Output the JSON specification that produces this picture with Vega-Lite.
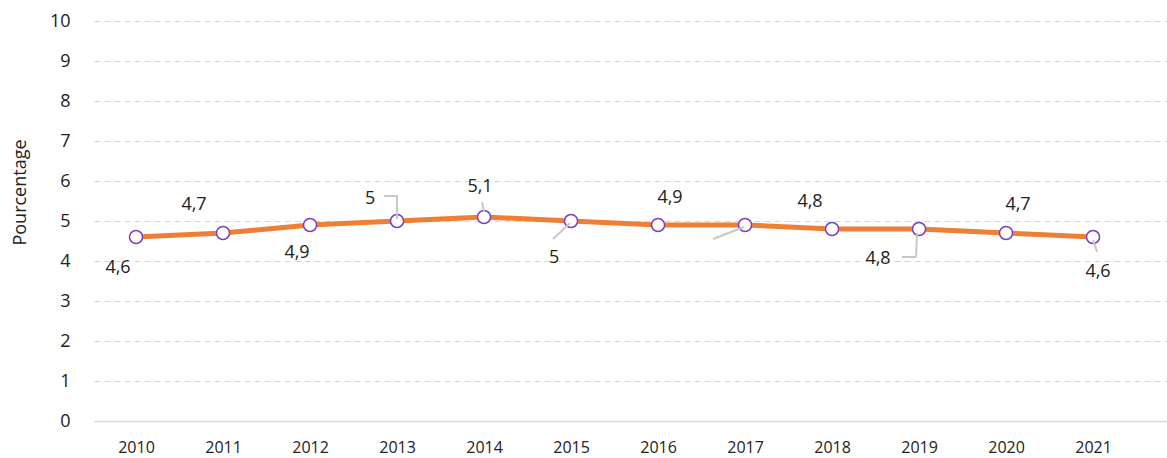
{
  "$schema": "https://vega.github.io/schema/vega-lite/v6.json",
  "width": 1073,
  "height": 400,
  "autosize": {"type": "none"},
  "padding": {"left": 94, "top": 21, "right": 0, "bottom": 37},
  "background": "white",
  "config": {"view": {"stroke": null}, "font": "Open Sans", "text": {"font": "Open Sans"}},
  "data": {
    "values": [
      {"year": 2010, "value": 4.6, "label": "4,6"},
      {"year": 2011, "value": 4.7, "label": "4,7"},
      {"year": 2012, "value": 4.9, "label": "4,9"},
      {"year": 2013, "value": 5.0, "label": "5"},
      {"year": 2014, "value": 5.1, "label": "5,1"},
      {"year": 2015, "value": 5.0, "label": "5"},
      {"year": 2016, "value": 4.9, "label": "4,9"},
      {"year": 2017, "value": 4.9, "label": "4,9"},
      {"year": 2018, "value": 4.8, "label": "4,8"},
      {"year": 2019, "value": 4.8, "label": "4,8"},
      {"year": 2020, "value": 4.7, "label": "4,7"},
      {"year": 2021, "value": 4.6, "label": "4,6"}
    ]
  },
  "encoding": {
    "x": {
      "field": "year", "type": "quantitative",
      "scale": {"domain": [2009.517, 2021.85], "nice": false, "zero": false},
      "axis": {
        "values": [2010, 2011, 2012, 2013, 2014, 2015, 2016, 2017, 2018, 2019, 2020, 2021],
        "format": "d", "title": null, "grid": false, "ticks": false, "tickSize": 0,
        "labelPadding": 18, "labelFontSize": 16, "labelColor": "#222222", "labelFont": "Open Sans",
        "domainColor": "#d9d9d9", "domainWidth": 1.5, "labelFlush": false
      }
    },
    "y": {
      "field": "value", "type": "quantitative",
      "scale": {"domain": [0, 10], "nice": false},
      "axis": {
        "values": [0, 1, 2, 3, 4, 5, 6, 7, 8, 9, 10],
        "title": "Pourcentage", "titleFontSize": 18, "titleFontWeight": "normal", "titleColor": "#222222",
        "titleFont": "Open Sans", "titleX": -65, "titleY": 171,
        "labelPadding": 24, "ticks": false, "tickSize": 0, "domain": false,
        "gridDash": [6, 4], "gridColor": "#d5d5d5", "gridWidth": 1,
        "labelFontSize": 18, "labelColor": "#222222", "labelFont": "Open Sans"
      }
    }
  },
  "layer": [
    {"mark": {"type": "line", "color": "#EF7F34", "strokeWidth": 5}},
    {"mark": {"type": "point", "filled": true, "fill": "white", "stroke": "#7A3FC0", "strokeWidth": 1.5, "size": 170, "opacity": 1}},
    {
      "transform": [{"filter": "datum.year == 2013"}],
      "mark": {"type": "rule", "color": "#c8c8c8", "strokeWidth": 2, "xOffset": 0, "yOffset": -2, "x2Offset": 0, "y2Offset": -25},
      "encoding": {"x2": {"field": "year"}, "y2": {"field": "value"}}
    },
    {
      "transform": [{"filter": "datum.year == 2013"}],
      "mark": {"type": "rule", "color": "#c8c8c8", "strokeWidth": 2, "xOffset": -13, "yOffset": -25, "x2Offset": 1, "y2Offset": -25},
      "encoding": {"x2": {"field": "year"}, "y2": {"field": "value"}}
    },
    {
      "transform": [{"filter": "datum.year == 2014"}],
      "mark": {"type": "rule", "color": "#c8c8c8", "strokeWidth": 2, "xOffset": -2, "yOffset": -15, "x2Offset": 0, "y2Offset": -5},
      "encoding": {"x2": {"field": "year"}, "y2": {"field": "value"}}
    },
    {
      "transform": [{"filter": "datum.year == 2015"}],
      "mark": {"type": "rule", "color": "#c8c8c8", "strokeWidth": 2, "xOffset": -18, "yOffset": 18, "x2Offset": -1, "y2Offset": 2},
      "encoding": {"x2": {"field": "year"}, "y2": {"field": "value"}}
    },
    {
      "transform": [{"filter": "datum.year == 2017"}],
      "mark": {"type": "rule", "color": "#c8c8c8", "strokeWidth": 2, "xOffset": -32, "yOffset": 14, "x2Offset": -1, "y2Offset": 2},
      "encoding": {"x2": {"field": "year"}, "y2": {"field": "value"}}
    },
    {
      "transform": [{"filter": "datum.year == 2019"}],
      "mark": {"type": "rule", "color": "#c8c8c8", "strokeWidth": 2, "xOffset": -2, "yOffset": 4, "x2Offset": -3, "y2Offset": 28},
      "encoding": {"x2": {"field": "year"}, "y2": {"field": "value"}}
    },
    {
      "transform": [{"filter": "datum.year == 2019"}],
      "mark": {"type": "rule", "color": "#c8c8c8", "strokeWidth": 2, "xOffset": -17, "yOffset": 28, "x2Offset": -3, "y2Offset": 28},
      "encoding": {"x2": {"field": "year"}, "y2": {"field": "value"}}
    },
    {
      "transform": [{"filter": "datum.year == 2021"}],
      "mark": {"type": "rule", "color": "#c8c8c8", "strokeWidth": 2, "xOffset": 0, "yOffset": 3, "x2Offset": 4, "y2Offset": 15},
      "encoding": {"x2": {"field": "year"}, "y2": {"field": "value"}}
    },
    {"transform": [{"filter": "datum.year == 2010"}], "mark": {"type": "text", "fontSize": 18, "color": "#222222", "dx": -18, "dy": 31}, "encoding": {"text": {"field": "label"}}},
    {"transform": [{"filter": "datum.year == 2011"}], "mark": {"type": "text", "fontSize": 18, "color": "#222222", "dx": -29, "dy": -28}, "encoding": {"text": {"field": "label"}}},
    {"transform": [{"filter": "datum.year == 2012"}], "mark": {"type": "text", "fontSize": 18, "color": "#222222", "dx": -13, "dy": 28}, "encoding": {"text": {"field": "label"}}},
    {"transform": [{"filter": "datum.year == 2013"}], "mark": {"type": "text", "fontSize": 18, "color": "#222222", "dx": -27, "dy": -22}, "encoding": {"text": {"field": "label"}}},
    {"transform": [{"filter": "datum.year == 2014"}], "mark": {"type": "text", "fontSize": 18, "color": "#222222", "dx": -4, "dy": -30}, "encoding": {"text": {"field": "label"}}},
    {"transform": [{"filter": "datum.year == 2015"}], "mark": {"type": "text", "fontSize": 18, "color": "#222222", "dx": -17, "dy": 37}, "encoding": {"text": {"field": "label"}}},
    {"transform": [{"filter": "datum.year == 2016"}], "mark": {"type": "text", "fontSize": 18, "color": "#222222", "dx": 12, "dy": -27}, "encoding": {"text": {"field": "label"}}},
    {"transform": [{"filter": "datum.year == 2018"}], "mark": {"type": "text", "fontSize": 18, "color": "#222222", "dx": -22, "dy": -27}, "encoding": {"text": {"field": "label"}}},
    {"transform": [{"filter": "datum.year == 2019"}], "mark": {"type": "text", "fontSize": 18, "color": "#222222", "dx": -41, "dy": 30}, "encoding": {"text": {"field": "label"}}},
    {"transform": [{"filter": "datum.year == 2020"}], "mark": {"type": "text", "fontSize": 18, "color": "#222222", "dx": 12, "dy": -28}, "encoding": {"text": {"field": "label"}}},
    {"transform": [{"filter": "datum.year == 2021"}], "mark": {"type": "text", "fontSize": 18, "color": "#222222", "dx": 5, "dy": 35}, "encoding": {"text": {"field": "label"}}}
  ]
}
